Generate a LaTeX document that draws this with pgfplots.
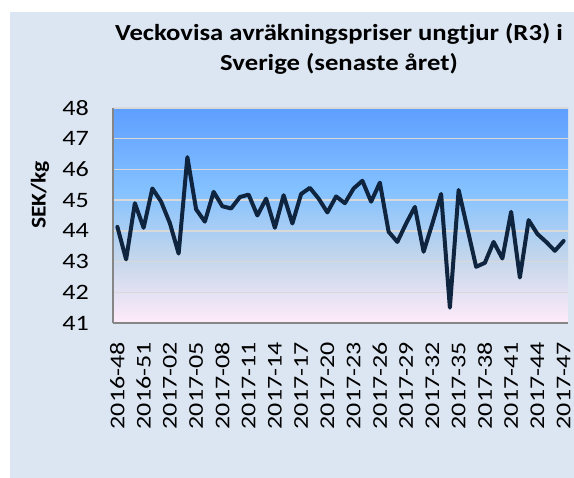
\documentclass[border=0pt]{standalone}
\usepackage{fontspec}
\setmainfont{Carlito}
\usepackage{graphicx}
\usepackage{pgfplots}
\pgfplotsset{compat=1.18}
\definecolor{panel}{HTML}{DCE6F2}
\definecolor{gridgray}{HTML}{D9D9D9}
\definecolor{axisgray}{HTML}{868686}
\definecolor{navy}{HTML}{0F243E}
\definecolor{dbpink}{HTML}{FFEBFA}
\definecolor{dbgray}{HTML}{C4D6EB}
\definecolor{dblight}{HTML}{85C2FF}
\definecolor{dbtop}{HTML}{5E9EFF}
\pgfdeclareverticalshading{daybreak}{100bp}{color(0bp)=(dbpink); color(25bp)=(dbpink); color(40bp)=(dbgray); color(55.5bp)=(dblight); color(75bp)=(dbtop); color(100bp)=(dbtop)}
\newcommand{\xl}[1]{\resizebox{87pt}{\height}{#1}}
\newcommand{\yl}[1]{\resizebox{26.5pt}{\height}{#1}}
\pgfplotstableread{
i v
0 44.13
1 43.07
2 44.9
3 44.1
4 45.38
5 44.95
6 44.25
7 43.26
8 46.4
9 44.7
10 44.3
11 45.27
12 44.8
13 44.73
14 45.1
15 45.18
16 44.5
17 45.05
18 44.1
19 45.16
20 44.24
21 45.2
22 45.4
23 45.05
24 44.6
25 45.12
26 44.9
27 45.38
28 45.63
29 44.95
30 45.57
31 43.97
32 43.64
33 44.24
34 44.78
35 43.32
36 44.24
37 45.2
38 41.5
39 45.33
40 44.08
41 42.83
42 42.96
43 43.64
44 43.1
45 44.62
46 42.48
47 44.35
48 43.9
49 43.64
50 43.35
51 43.67
}\prices
\begin{document}
\begin{tikzpicture}[x=1pt,y=1pt]
\path[use as bounding box, fill=white] (0,0) rectangle (574,478);
\fill[panel] (10,0) rectangle (574,466);
\begin{axis}[
  at={(113pt,155pt)}, anchor=south west,
  scale only axis, width=455pt, height=215pt,
  xmin=-0.5, xmax=51.5, ymin=41, ymax=48,
  ytick={41,42,...,48},
  yticklabels={\yl{41},\yl{42},\yl{43},\yl{44},\yl{45},\yl{46},\yl{47},\yl{48}},
  xtick={0,3,...,51},
  xticklabels={\xl{2016-48},\xl{2016-51},\xl{2017-02},\xl{2017-05},\xl{2017-08},\xl{2017-11},\xl{2017-14},\xl{2017-17},\xl{2017-20},\xl{2017-23},\xl{2017-26},\xl{2017-29},\xl{2017-32},\xl{2017-35},\xl{2017-38},\xl{2017-41},\xl{2017-44},\xl{2017-47}},
  axis lines=left,
  axis line style={-, draw=axisgray, line width=1.5pt},
  ymajorgrids, grid style={gridgray, line width=1.5pt},
  major tick length=0pt,
  axis background/.style={shade, shading=daybreak},
  yticklabel style={font=\fontsize{22}{22}\selectfont, text=black, inner sep=1pt, xshift=-23pt},
  xticklabel style={font=\fontsize{21}{21}\selectfont, text=black, rotate=90, anchor=east, inner sep=1pt, xshift=-18pt},
]
\addplot[navy, line width=4pt, line join=round, line cap=round, mark=none] table[x=i, y=v] {\prices};
\end{axis}
\node[anchor=base, font=\bfseries\fontsize{23}{23}\selectfont] at (339,437) {\scalebox{1.16}[1]{Veckovisa avräkningspriser ungtjur (R3) i}};
\node[anchor=base, font=\bfseries\fontsize{23}{23}\selectfont] at (339,407) {\scalebox{1.16}[1]{Sverige (senaste året)}};
\node[rotate=90, font=\bfseries\fontsize{21}{21}\selectfont] at (40,283) {\resizebox{68pt}{\height}{SEK/kg}};
\end{tikzpicture}
\end{document}
